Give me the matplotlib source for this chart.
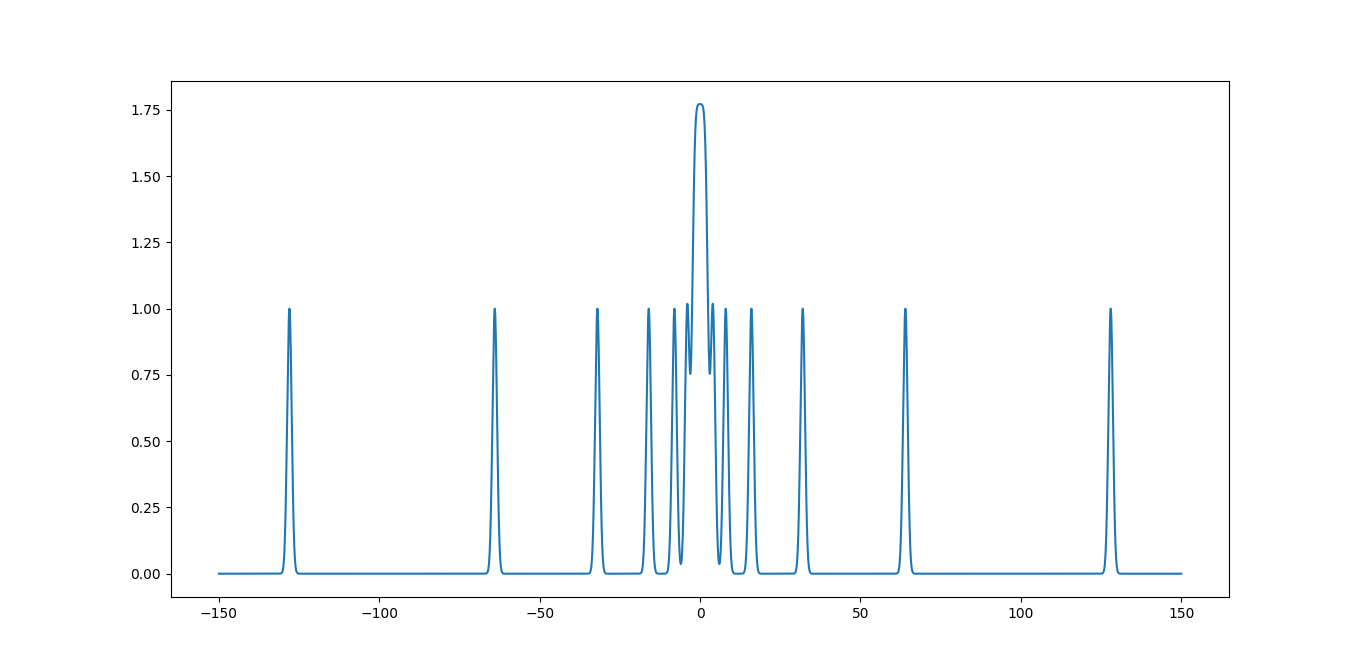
import numpy as np
import matplotlib.pyplot as plt

# Peak centres (each peak has height 1, width ~ exp(-d^2))
peak_centres = [-128, -64, -32, -16, -8, -4, -2, -1, 0, 1, 2, 4, 8, 16, 32, 64, 128]
peak_heights = [1.0] * len(peak_centres)
x_min, x_max = -150, 150
n_samples = 3001

x = np.linspace(x_min, x_max, n_samples)
y = np.zeros_like(x)
for c, h in zip(peak_centres, peak_heights):
    y += h * np.exp(-(x - c) ** 2)

fig, ax = plt.subplots(figsize=(13.66, 6.71), dpi=100)
ax.plot(x, y)

fig.savefig('out.png')
